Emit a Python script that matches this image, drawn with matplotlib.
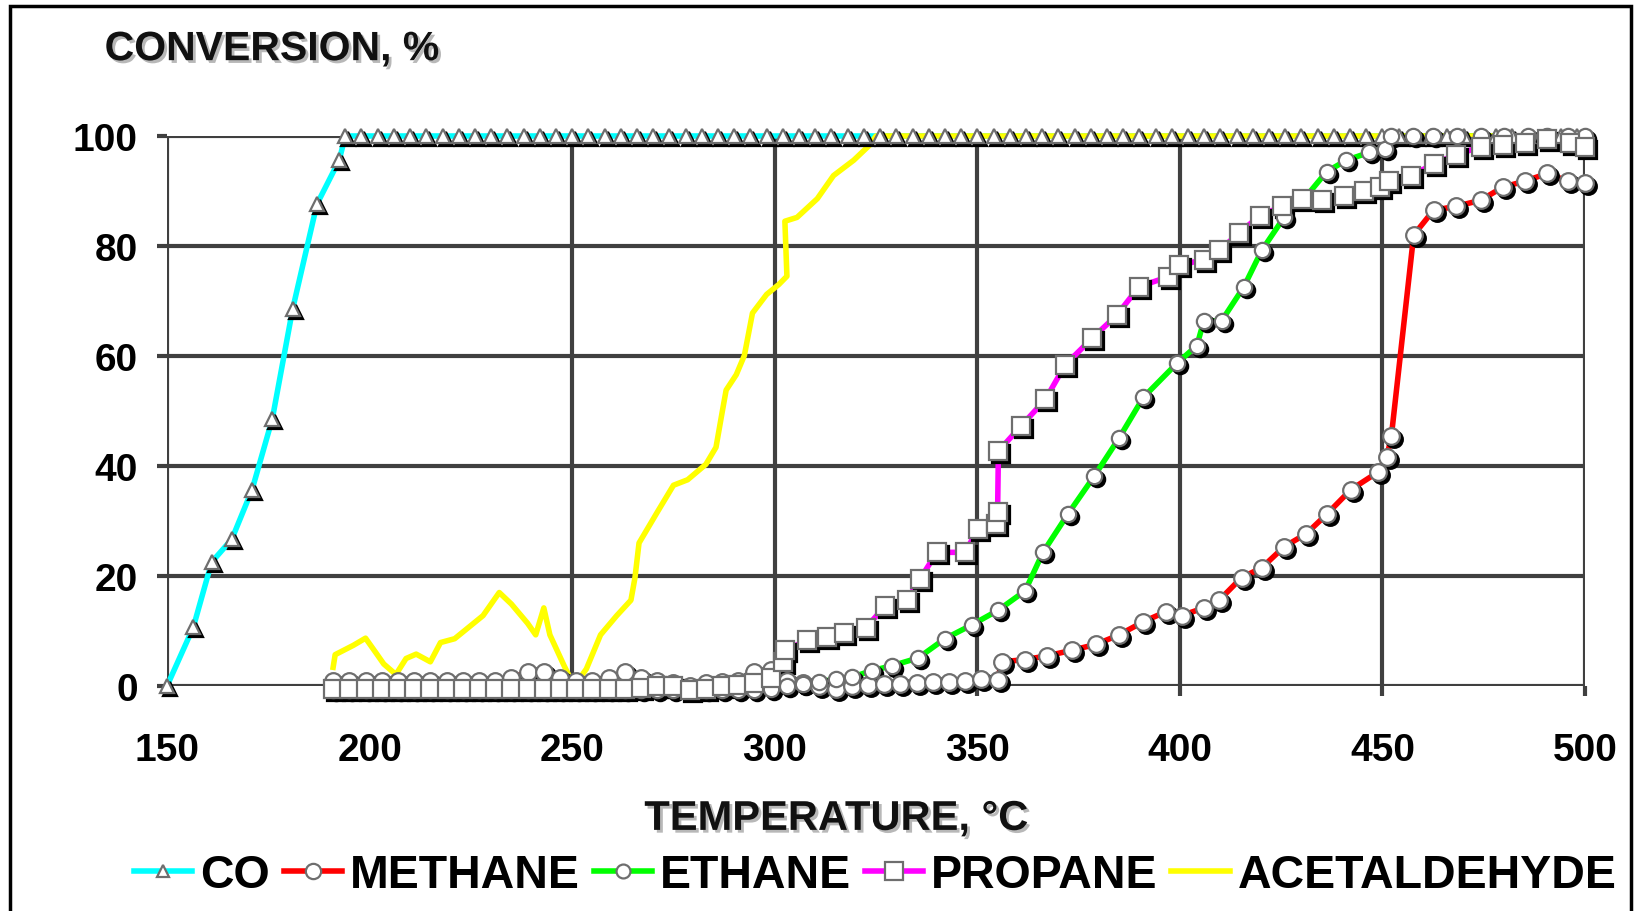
import matplotlib.pyplot as plt
import matplotlib.patheffects as pe
from matplotlib.lines import Line2D
from matplotlib.patches import Rectangle
from matplotlib.transforms import offset_copy

plt.rcParams['font.family'] = ['Liberation Sans', 'DejaVu Sans']

# ---- data (temperature in C, conversion in %) ----
co_t = [150, 156.5, 161, 166, 171, 176, 181, 187, 192.5, 194,
        198, 202, 206, 210, 214, 218, 222, 226, 230, 234, 238, 242, 246, 250,
        254, 258, 262, 266, 270, 274, 278, 282, 286, 290, 294, 298, 302, 306,
        310, 314, 318, 322, 326, 330, 334, 338, 342, 346, 350, 354, 358, 362,
        366, 370, 374, 378, 382, 386, 390, 394, 398, 402, 406, 410, 414, 418,
        422, 426, 430, 434, 438, 442, 446, 450, 454, 458, 462, 466, 470, 474,
        478, 482, 486, 490, 494, 498, 500]
co_y = [0, 10.7, 22.5, 26.7, 35.7, 48.6, 68.5, 87.6, 95.6, 100,
        100, 100, 100, 100, 100, 100, 100, 100, 100, 100, 100, 100, 100, 100,
        100, 100, 100, 100, 100, 100, 100, 100, 100, 100, 100, 100, 100, 100,
        100, 100, 100, 100, 100, 100, 100, 100, 100, 100, 100, 100, 100, 100,
        100, 100, 100, 100, 100, 100, 100, 100, 100, 100, 100, 100, 100, 100,
        100, 100, 100, 100, 100, 100, 100, 100, 100, 100, 100, 100, 100, 100,
        100, 100, 100, 100, 100, 100, 100]

methane_t = [191, 195, 199, 203, 207, 211, 215, 219, 223, 227, 231, 235, 239,
             243, 247, 251, 255, 259, 263, 267, 271, 275, 279, 283, 287, 291,
             295, 299, 303, 307, 311, 315, 319, 323, 327, 331, 335, 339, 343,
             347, 351, 355, 356, 361.8, 367.3, 373.4, 379.4, 385, 391, 396.5,
             400.4, 405.9, 409.7, 415.2, 420.2, 425.7, 431.2, 436.2, 442.2,
             448.9, 451.1, 452.2, 457.7, 462.6, 468.1, 474.2, 479.7, 485.2,
             490.7, 495.7, 500]
methane_y = [1, 1, 1, 1, 1, 1, 1, 1, 1, 1, 1, 1.5, 2.5,
             2.5, 1.5, 1, 1, 1.5, 2.5, 1.5, 1, 0.5, 0, 0.5, 0.8, 1,
             2.5, 3, 1, 0.5, 0, -0.5, 0, 0.2, 0.3, 0.3, 0.5, 0.8, 0.8,
             1, 1.2, 1.1, 4.4, 4.8, 5.5, 6.5, 7.6, 9.3, 11.7, 13.5,
             12.8, 14.2, 15.6, 19.7, 21.5, 25.3, 27.7, 31.2, 35.7,
             38.9, 41.7, 45.5, 82.0, 86.5, 87.2, 88.3, 90.7, 91.8,
             93.2, 91.8, 91.5]

ethane_t = [191, 195, 199, 203, 207, 211, 215, 219, 223, 227, 231, 235, 239,
            243, 247, 251, 255, 259, 263, 267, 271, 275, 279, 283, 287, 291,
            295, 299, 303, 307, 311, 315, 319, 324, 329, 335.4, 342, 348.6,
            355.2, 361.8, 366.2, 372.3, 378.9, 385, 391, 399.3, 404.2, 405.9,
            410.3, 415.8, 420.2, 425.7, 430.7, 436.2, 441.1, 446.7, 450.5,
            452, 457.6, 462.5, 468.5, 474.2, 479.9, 485.8, 490.7, 495.7, 500]
ethane_y = [-0.8, -0.8, -0.8, -0.8, -0.8, -0.8, -0.8, -0.8, -0.8, -0.8, -0.8,
            -0.8, -0.8, -0.8, -0.8, -0.8, -0.8, -0.8, -0.8, -0.8, -0.8, -0.8,
            -0.8, -0.8, -0.8, -0.8, -0.8, -0.5, 0, 0.3, 0.8, 1.2, 1.6, 2.8,
            3.7, 5.1, 8.6, 11.1, 13.8, 17.3, 24.3, 31.2, 38.2, 45.1, 52.5,
            58.7, 61.9, 66.4, 66.4, 72.6, 79.2, 85.2, 88.6, 93.5, 95.6, 97,
            97.7, 100, 100, 100, 100, 100, 100, 100, 100, 100, 100]

propane_t = [191, 195, 199, 203, 207, 211, 215, 219, 223, 227, 231, 235, 239,
             243, 247, 251, 255, 259, 263, 267, 271, 275, 279, 283, 287, 291,
             295, 299, 302, 302.5, 308, 313, 317, 322.5, 327.2, 332.6, 335.9,
             340, 346.9, 350.2, 354.5, 355, 355.2, 360.7, 366.8, 371.7, 378.3,
             384.4, 389.9, 397.1, 399.8, 405.9, 409.7, 414.7, 419.7, 425.2,
             430.1, 435.1, 440.6, 445.5, 449.4, 451.6, 457.1, 462.6, 468.1,
             474.2, 479.7, 485.2, 490.7, 496.2, 500]
propane_y = [-0.5, -0.5, -0.5, -0.5, -0.5, -0.5, -0.5, -0.5, -0.5, -0.5,
             -0.5, -0.5, -0.5, -0.5, -0.5, -0.5, -0.5, -0.5, -0.5, -0.3,
             0, 0, -0.8, -0.5, 0, 0.2, 0.5, 1.5, 4.3, 6.5, 8.3, 9.0, 9.6,
             10.6, 14.5, 15.6, 19.5, 24.3, 24.3, 28.5, 29.5, 31.6, 42.7,
             47.2, 52.1, 58.4, 63.2, 67.4, 72.6, 74.4, 76.5, 77.5, 79.2,
             82.4, 85.5, 87.2, 88.6, 88.3, 89, 90, 90.7, 91.8, 92.8, 94.9,
             96.6, 98, 98.4, 98.7, 99.4, 98.7, 98]

acet_t = [191, 191.5, 196, 199, 201.5, 203.5, 206.5, 209, 211.5, 215, 217.5,
          221, 224, 228, 232, 235, 239, 241, 243, 244.5, 248, 250.5, 253.5,
          257, 261, 264.5, 265.5, 266.5, 271, 275, 278.5, 283, 285.5, 287,
          288, 290.5, 292.5, 294.5, 298, 301, 303, 302.5, 305.5, 310.5, 314.5,
          319.5, 323.5, 325, 500]
acet_y = [3.4, 5.7, 7.4, 8.7, 6.1, 4, 2.1, 5, 5.8, 4.4, 7.9,
          8.6, 10.4, 12.8, 17, 14.9, 11.4, 9.3, 14.2, 9.3, 3.7, 0, 3.1,
          9.3, 12.8, 15.6, 19.7, 26, 31.6, 36.5, 37.5, 40.3, 43.4, 49.7,
          53.8, 56.6, 60.1, 67.8, 71.2, 73, 74.5, 84.5, 85.2, 88.6, 92.8,
          95.6, 98.4, 100, 100]

x_ticks = [150, 200, 250, 300, 350, 400, 450, 500]
y_ticks = [0, 20, 40, 60, 80, 100]

grid_c = '#404040'
edge_c = '#6e6e6e'

series = [
    (co_t, co_y, '#00FFFF', '^', 10, 'CO'),
    (methane_t, methane_y, '#FF0000', 'o', 12, 'METHANE'),
    (ethane_t, ethane_y, '#00FF00', 'o', 11, 'ETHANE'),
    (propane_t, propane_y, '#FF00FF', 's', 13.5, 'PROPANE'),
    (acet_t, acet_y, '#FFFF00', None, 0, 'ACETALDEHYDE'),
]

fig = plt.figure(figsize=(16.39, 9.12), dpi=100)
ax = fig.add_axes([0.1019, 0.2467, 0.8652, 0.6031])
ax.set_xlim(150, 500)
ax.set_ylim(0, 100)
ax.set_xticks(x_ticks)
ax.set_yticks(y_ticks)
ax.grid(True, color=grid_c, lw=3)
ax.set_axisbelow(True)
ax.xaxis.get_gridlines()[1].set_visible(False)  # no gridline at 200 in the original
for s in ax.spines.values():
    s.set_visible(False)
ax.tick_params(direction='out', length=7, width=3, color=grid_c, labelsize=28)
ax.tick_params(axis='x', pad=26)
ax.tick_params(axis='y', pad=14)
for lab in ax.get_xticklabels() + ax.get_yticklabels():
    lab.set_fontweight('bold')

# lines first, then black marker shadows shifted down-right, then white markers
shadow_tr = offset_copy(ax.transData, fig=fig, x=3, y=-3, units='dots')
for t, y, c, m, ms, name in series:
    ax.plot(t, y, color=c, lw=4, clip_on=False, zorder=3)
for t, y, c, m, ms, name in series:
    if m is None:
        continue
    ax.plot(t, y, ls='none', marker=m, ms=ms, mfc='black', mec='black', mew=1.6,
            transform=shadow_tr, clip_on=False, zorder=3.5)
for t, y, c, m, ms, name in series:
    if m is None:
        continue
    ax.plot(t, y, ls='none', marker=m, ms=ms, mfc='white', mec=edge_c, mew=1.6,
            clip_on=False, zorder=4)

title_fx = [pe.withSimplePatchShadow(offset=(2, -2), shadow_rgbFace='#b8b8b8', alpha=1)]
fig.text(0.166, 0.945, 'CONVERSION, %', ha='center', va='center', fontsize=29.5,
         fontweight='bold', color='#111111', path_effects=title_fx)
fig.text(0.510, 0.101, 'TEMPERATURE, °C', ha='center', va='center', fontsize=30,
         fontweight='bold', color='#111111', path_effects=title_fx)

handles = []
for t, y, c, m, ms, name in series:
    handles.append(Line2D([], [], color=c, lw=4, marker=m, ms=ms - 1, mfc='white',
                          mec=edge_c, mew=1.6, label=name))
fig.legend(handles=handles, loc='center', bbox_to_anchor=(0.534, 0.0395), ncol=5,
           frameon=False, borderpad=0, handlelength=1.25, handletextpad=0.17,
           columnspacing=0.3, prop={'size': 33.5, 'weight': 'bold'})

fig.add_artist(Rectangle((0.0064, -0.02), 0.989, 1.012, transform=fig.transFigure,
                         fill=False, ec='black', lw=2.5))

fig.savefig('out.png', dpi=100)
